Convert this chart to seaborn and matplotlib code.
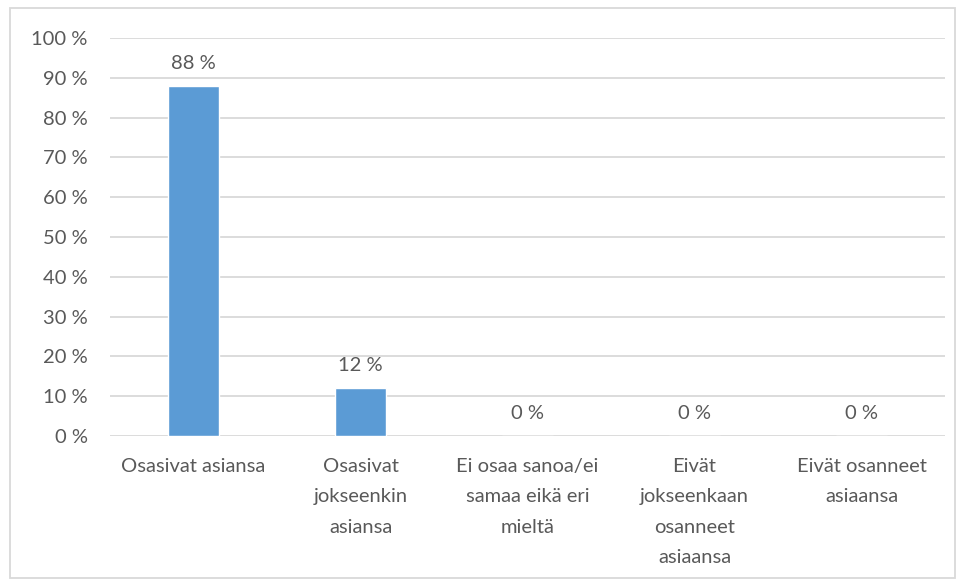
import matplotlib
matplotlib.use("Agg")
import matplotlib.pyplot as plt
import seaborn as sns
import pandas as pd
from matplotlib.patches import Rectangle

categories = [
    "Osasivat asiansa",
    "Osasivat\njokseenkin\nasiansa",
    "Ei osaa sanoa/ei\nsamaa eikä eri\nmieltä",
    "Eivät\njokseenkaan\nosanneet\nasiaansa",
    "Eivät osanneet\nasiaansa",
]
values = [88, 12, 0, 0, 0]
yticks = [0, 10, 20, 30, 40, 50, 60, 70, 80, 90, 100]
ytick_labels = [f"{v} %" for v in yticks]

sns.set_theme(style="white")
plt.rcParams["font.family"] = ["Lato", "DejaVu Sans"]

TXT = "#595959"
GRID = "#D9D9D9"
BAR = "#5B9BD5"
FS = 14.5

df = pd.DataFrame({"cat": categories, "val": values})

fig = plt.figure(figsize=(9.62, 5.85), dpi=100)
ax = fig.add_axes([110 / 962, 1 - 436 / 585, 835 / 962, 398 / 585])

sns.barplot(data=df, x="cat", y="val", color=BAR, width=0.31, ax=ax,
            saturation=1, zorder=3)

ax.set_ylim(0, 100)
ax.set_xlim(-0.5, len(categories) - 0.5)
ax.set_yticks(yticks)
ax.set_yticklabels(ytick_labels)
ax.set_xlabel("")
ax.set_ylabel("")
for y in yticks:
    ax.axhline(y, color=GRID, lw=1.3, zorder=1)
for s in ax.spines.values():
    s.set_visible(False)
ax.tick_params(axis="y", length=0, pad=16, labelsize=FS, labelcolor=TXT)
ax.tick_params(axis="x", length=0, pad=15.5, labelsize=FS, labelcolor=TXT)
for lbl in ax.get_xticklabels():
    lbl.set_linespacing(1.97)
    lbl.set_va("top")

for i, v in enumerate(values):
    ax.annotate(f"{v} %", (i, v), xytext=(0, 10), textcoords="offset points",
                ha="center", va="bottom", fontsize=FS, color=TXT)

fig.patches.append(Rectangle((10 / 962, 1 - 578 / 585), 945 / 962, 570 / 585,
                             transform=fig.transFigure, fill=False,
                             edgecolor=GRID, lw=1.3))

fig.savefig("out.png", dpi=100)
